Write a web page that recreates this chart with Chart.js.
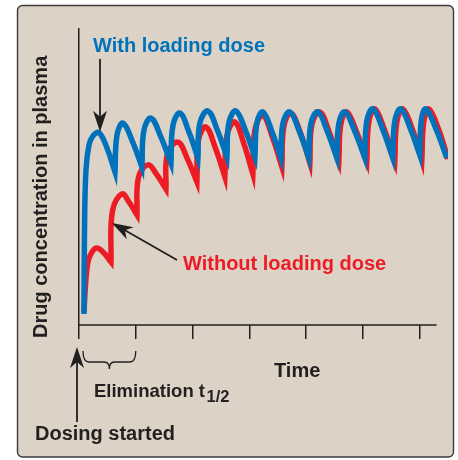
<!DOCTYPE html>
<html>
<head>
<meta charset="utf-8">
<script src="https://cdn.jsdelivr.net/npm/chart.js@4.4.1/dist/chart.umd.min.js"></script>
<style>
  html, body { margin: 0; padding: 0; background: #fff; }
  canvas { display: block; }
</style>
</head>
<body>
<canvas id="myChart" width="458" height="460"></canvas>
<script>
// time is in elimination half-lives, concentration in % of the axis height
// the dose points are listed twice so the curve gets a sharp corner there
let blueTime = [0.088, 0.097, 0.123, 0.176, 0.246, 0.352, 0.493, 0.634, 0.634,
  0.669, 0.775, 0.942, 1.109, 1.109,
  1.144, 1.268, 1.444, 1.620, 1.620,
  1.655, 1.778, 1.937, 2.095, 2.095,
  2.130, 2.271, 2.438, 2.606, 2.606,
  2.641, 2.764, 2.931, 3.099, 3.099,
  3.134, 3.239, 3.398, 3.556, 3.556,
  3.592, 3.715, 3.882, 4.049, 4.049,
  4.085, 4.208, 4.375, 4.542, 4.542,
  4.577, 4.683, 4.859, 5.035, 5.035,
  5.070, 5.176, 5.352, 5.528, 5.528,
  5.563, 5.669, 5.836, 6.004, 6.004,
  6.030, 6.109, 6.294, 6.479];
let blueConc = [3.7, 32.1, 52.4, 60.8, 63.9, 65.0, 59.8, 51.7, 51.7,
  64.1, 68.2, 62.0, 53.4, 53.4,
  65.8, 69.9, 63.5, 54.7, 54.7,
  67.4, 71.6, 65.2, 56.4, 56.4,
  68.3, 72.3, 65.8, 56.8, 56.8,
  68.4, 72.3, 65.8, 56.8, 56.8,
  68.2, 72.0, 65.4, 56.4, 56.4,
  68.1, 72.0, 65.4, 56.4, 56.4,
  68.1, 72.0, 65.4, 56.4, 56.4,
  68.1, 72.0, 65.4, 56.4, 56.4,
  68.9, 73.0, 66.0, 56.4, 56.4,
  68.9, 73.0, 66.4, 57.4, 57.4,
  69.1, 73.0, 66.0, 56.4];

let redTime = [0.088, 0.115, 0.158, 0.229, 0.317, 0.440, 0.563, 0.563,
  0.590, 0.757, 0.889, 1.021, 1.021,
  1.048, 1.215, 1.373, 1.532, 1.532,
  1.558, 1.743, 1.910, 2.077, 2.077,
  2.104, 2.236, 2.403, 2.570, 2.570,
  2.606, 2.746, 2.905, 3.063, 3.063,
  3.099, 3.239, 3.407, 3.574, 3.574,
  3.609, 3.732, 3.908, 4.067, 4.067,
  4.102, 4.243, 4.410, 4.577, 4.577,
  4.613, 4.718, 4.894, 5.070, 5.070,
  5.106, 5.211, 5.387, 5.563, 5.563,
  5.599, 5.704, 5.880, 6.039, 6.039,
  6.074, 6.162, 6.338, 6.500];
let redConc = [4.4, 13.5, 21.3, 24.7, 26.0, 24.3, 21.3, 21.3,
  38.6, 44.3, 41.3, 37.2, 37.2,
  49.9, 54.1, 50.7, 45.9, 45.9,
  57.8, 61.8, 56.1, 48.3, 48.3,
  62.3, 66.9, 59.8, 50.0, 50.0,
  64.0, 68.6, 61.2, 51.0, 51.0,
  65.9, 70.9, 63.5, 53.4, 53.4,
  67.1, 71.6, 64.5, 54.7, 54.7,
  67.7, 72.0, 65.0, 55.4, 55.4,
  67.9, 72.0, 65.0, 55.4, 55.4,
  68.6, 73.0, 65.6, 55.4, 55.4,
  68.6, 73.0, 65.7, 55.7, 55.7,
  68.7, 73.0, 65.9, 56.1];

let tickTimes = [0, 1, 2, 3, 4, 5, 6];
let axisEnd = 6.3;

let yTitle = 'Drug concentration in plasma';
let xTitle = 'Time';
let blueLabel = 'With loading dose';
let redLabel = 'Without loading dose';
let halfLifeLabel = 'Elimination t';
let halfLifeSub = '1/2';
let startLabel = 'Dosing started';

let dark = '#231f20';
let blue = '#0072bc';
let red = '#ed1c24';
let font = "'Liberation Sans', Arial, sans-serif";

function arrow(ctx, x1, y1, x2, y2) {
  let a = Math.atan2(y2 - y1, x2 - x1);
  ctx.beginPath();
  ctx.moveTo(x1, y1);
  ctx.lineTo(x2 - Math.cos(a) * 14, y2 - Math.sin(a) * 14);
  ctx.stroke();
  ctx.save();
  ctx.translate(x2, y2);
  ctx.rotate(a);
  ctx.beginPath();
  ctx.moveTo(0, 0);
  ctx.lineTo(-21, -7);
  ctx.lineTo(-15, 0);
  ctx.lineTo(-21, 7);
  ctx.closePath();
  ctx.fill();
  ctx.restore();
}

// panel behind the chart
let panelPlugin = {
  id: 'panel',
  beforeDraw(chart) {
    let ctx = chart.ctx;
    ctx.save();
    ctx.fillStyle = '#ffffff';
    ctx.fillRect(0, 0, chart.width, chart.height);
    ctx.beginPath();
    ctx.roundRect(17.5, 5.5, 436, 451.5, 5);
    ctx.fillStyle = '#dcd3c6';
    ctx.fill();
    ctx.lineWidth = 1.4;
    ctx.strokeStyle = '#3a3a3a';
    ctx.stroke();
    ctx.restore();
  }
};

// x axis line, labels, arrows and the brace
let notesPlugin = {
  id: 'notes',
  afterDraw(chart) {
    let ctx = chart.ctx;
    let xs = chart.scales.x;
    let ys = chart.scales.y;
    let bottom = chart.chartArea.bottom;
    ctx.save();
    ctx.strokeStyle = dark;
    ctx.fillStyle = dark;
    ctx.lineWidth = 1.5;
    ctx.beginPath();
    ctx.moveTo(xs.getPixelForValue(0), bottom);
    ctx.lineTo(xs.getPixelForValue(axisEnd), bottom);
    ctx.stroke();

    // y title
    ctx.save();
    ctx.translate(47, 338);
    ctx.rotate(-Math.PI / 2);
    ctx.font = 'bold 20px ' + font;
    ctx.textAlign = 'left';
    ctx.fillText(yTitle, 0, 0);
    ctx.restore();

    ctx.font = 'bold 20px ' + font;
    ctx.textAlign = 'left';
    ctx.fillStyle = blue;
    ctx.fillText(blueLabel, 93, 52);
    ctx.fillStyle = red;
    ctx.fillText(redLabel, 183, 270);
    ctx.fillStyle = dark;
    ctx.fillText(xTitle, 274, 377);
    ctx.fillText(startLabel, 35, 440);
    ctx.font = 'bold 18.5px ' + font;
    ctx.fillText(halfLifeLabel, 94, 397);
    let w = ctx.measureText(halfLifeLabel).width;
    ctx.font = 'bold 16.5px ' + font;
    ctx.fillText(halfLifeSub, 94 + w + 1.5, 401.5);

    // arrows
    ctx.lineWidth = 1.8;
    let px = xs.getPixelForValue(0.37);
    arrow(ctx, px, 59, px, ys.getPixelForValue(65.3));
    arrow(ctx, 177, 260, xs.getPixelForValue(0.58), ys.getPixelForValue(34.5));
    let x0 = xs.getPixelForValue(0) - 2;
    arrow(ctx, x0, 422, x0, 347);

    // brace for one half-life
    let b0 = xs.getPixelForValue(0) + 4;
    let b1 = xs.getPixelForValue(1);
    let bm = (b0 + b1) / 2;
    ctx.lineWidth = 1.3;
    ctx.beginPath();
    ctx.moveTo(b0, 351);
    ctx.quadraticCurveTo(b0, 362, b0 + 6, 362);
    ctx.lineTo(bm - 5, 362);
    ctx.quadraticCurveTo(bm, 362, bm, 369);
    ctx.quadraticCurveTo(bm, 362, bm + 5, 362);
    ctx.lineTo(b1 - 6, 362);
    ctx.quadraticCurveTo(b1, 362, b1, 351);
    ctx.stroke();
    ctx.restore();
  }
};

let chart = document.getElementById('myChart');
let lineConfig = {
  type: 'line',
  data: {
    datasets: [{
      label: blueLabel,
      data: blueTime.map((t, i) => ({x: t, y: blueConc[i]})),
      borderColor: blue,
      borderWidth: 5.5,
      tension: 0.4,
      pointRadius: 0,
      fill: false
    }, {
      label: redLabel,
      data: redTime.map((t, i) => ({x: t, y: redConc[i]})),
      borderColor: red,
      borderWidth: 5.5,
      tension: 0.4,
      pointRadius: 0,
      fill: false
    }]
  },
  options: {
    responsive: false,
    animation: false,
    devicePixelRatio: 1,
    layout: {
      padding: {left: 79, right: 10, top: 29, bottom: 121}
    },
    plugins: {
      legend: {display: false},
      tooltip: {enabled: false}
    },
    scales: {
      x: {
        type: 'linear',
        min: 0,
        max: 6.5,
        afterBuildTicks: function (scale) {
          scale.ticks = tickTimes.map(v => ({value: v}));
        },
        ticks: {display: false},
        grid: {
          drawOnChartArea: false,
          drawTicks: true,
          tickLength: 14,
          color: dark,
          lineWidth: 1.5
        },
        border: {display: false}
      },
      y: {
        min: 0,
        max: 100,
        ticks: {display: false},
        grid: {display: false, drawTicks: false},
        border: {display: true, color: dark, width: 1.5}
      }
    }
  },
  plugins: [panelPlugin, notesPlugin]
};
let lineChart = new Chart(chart, lineConfig);
</script>
</body>
</html>
